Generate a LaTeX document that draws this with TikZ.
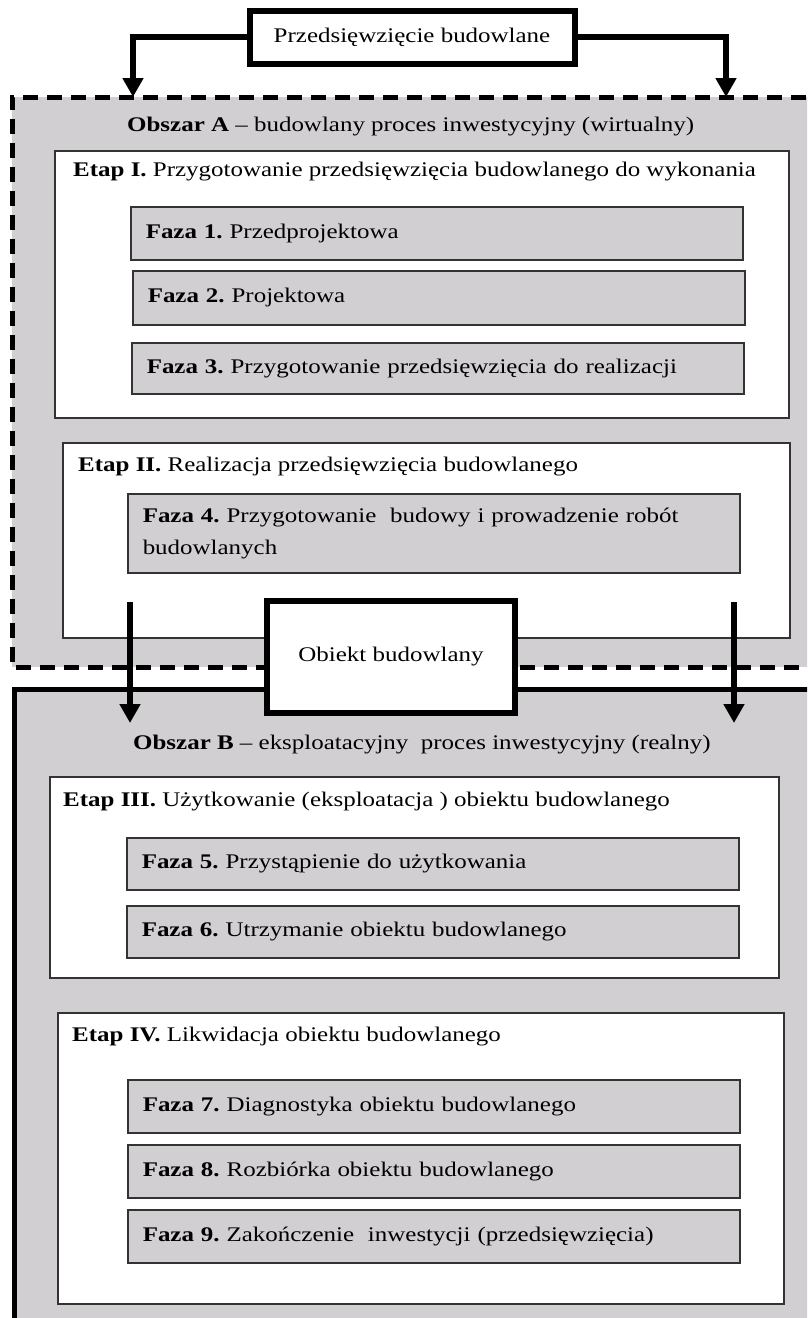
\documentclass[tikz,border=0pt]{standalone}
\usepackage{fontspec}
\setmainfont{Liberation Serif}[FakeStretch=1.2]
\usepackage{tikz}
\definecolor{areagray}{RGB}{209, 207, 209}
\definecolor{edgegray}{RGB}{51, 51, 51}
\usetikzlibrary{arrows.meta, positioning}
\frenchspacing

\begin{document}
\begin{tikzpicture}[
    x=1pt, y=-1pt,
    every node/.style={font=\fontsize{20.8}{32}\selectfont},
    mainbox/.style={rectangle, draw=black, line width=6pt, fill=white, inner sep=0pt, align=center},
    etapbox/.style={rectangle, draw=edgegray, line width=1.5pt, fill=white, anchor=north west, inner sep=0pt},
    fazabox/.style={rectangle, draw=edgegray, line width=1.5pt, fill=areagray, anchor=north west, inner xsep=15pt, inner ysep=0pt, text width=582pt, align=left},
    tag/.style={anchor=west, inner sep=0pt},
    flow/.style={line width=5.5pt, -{Triangle[length=19pt, width=20pt]}}
]
    \clip (0,0) rectangle (807,1318);

    % Obszar A (dashed area)
    \fill[areagray] (12,97) rectangle (830,667);
    \draw[line width=5pt, dash pattern=on 15pt off 9pt] (830,97) -- (12,97) -- (12,667) -- (830,667);

    % Obszar B (solid area)
    \fill[areagray] (14,689) rectangle (830,1340);
    \draw[line width=5pt] (830,689) -- (14,689) -- (14,1340);

    % Area titles
    \node[tag] (obszarA) at (127,127) {\textbf{Obszar A} – budowlany proces inwestycyjny (wirtualny)};
    \node[tag] (obszarB) at (133,745) {\textbf{Obszar B} – eksploatacyjny\ \ proces inwestycyjny (realny)};

    % Etap I
    \node[etapbox, minimum width=734pt, minimum height=267pt] (etap1) at (54,150) {};
    \node[tag] (etap1t) at (73,172) {\textbf{Etap I.} Przygotowanie przedsięwzięcia budowlanego do wykonania};
    \node[fazabox, minimum height=53pt] (faza1) at (130,206) {\textbf{Faza 1.} Przedprojektowa};
    \node[fazabox, minimum height=54pt] (faza2) at (132,270) {\textbf{Faza 2.} Projektowa};
    \node[fazabox, minimum height=51pt] (faza3) at (131,342) {\textbf{Faza 3.} Przygotowanie przedsięwzięcia do realizacji};

    % Etap II
    \node[etapbox, minimum width=727pt, minimum height=195pt] (etap2) at (62,442) {};
    \node[tag] (etap2t) at (78,467) {\textbf{Etap II.} Realizacja przedsięwzięcia budowlanego};
    \node[fazabox, minimum height=79pt] (faza4) at (127,493) {\textbf{Faza 4.} Przygotowanie\ \ budowy i prowadzenie robót\\budowlanych};

    % Etap III
    \node[etapbox, minimum width=729pt, minimum height=201pt] (etap3) at (49,776) {};
    \node[tag] (etap3t) at (63,802) {\textbf{Etap III.} Użytkowanie (eksploatacja ) obiektu budowlanego};
    \node[fazabox, minimum height=52pt] (faza5) at (126,837) {\textbf{Faza 5.} Przystąpienie do użytkowania};
    \node[fazabox, minimum height=52pt] (faza6) at (126,905) {\textbf{Faza 6.} Utrzymanie obiektu budowlanego};

    % Etap IV
    \node[etapbox, minimum width=726pt, minimum height=291pt] (etap4) at (57,1012) {};
    \node[tag] (etap4t) at (72,1037) {\textbf{Etap IV.} Likwidacja obiektu budowlanego};
    \node[fazabox, minimum height=53pt] (faza7) at (127,1079) {\textbf{Faza 7.} Diagnostyka obiektu budowlanego};
    \node[fazabox, minimum height=53pt] (faza8) at (127,1144) {\textbf{Faza 8.} Rozbiórka obiektu budowlanego};
    \node[fazabox, minimum height=53pt] (faza9) at (127,1209) {\textbf{Faza 9.} Zakończenie\ \ inwestycji (przedsięwzięcia)};

    % Przedsiewziecie and its arrows
    \node[mainbox, minimum width=325pt, minimum height=53pt] (przed) at (412,37) {Przedsięwzięcie budowlane};
    \coordinate (inA1) at (133,97);
    \coordinate (inA2) at (726,97);
    \draw[flow] (przed.west) -| (inA1);
    \draw[flow] (przed.east) -| (inA2);

    % Obiekt and the arrows into Obszar B
    \coordinate (outA1) at (130,602);
    \coordinate (inB1) at (130,723);
    \coordinate (outA2) at (734,602);
    \coordinate (inB2) at (734,723);
    \draw[flow] (outA1) -- (inB1);
    \draw[flow] (outA2) -- (inB2);
    \node[mainbox, minimum width=248pt, minimum height=112pt] (obiekt) at (391,657) {Obiekt budowlany};
\end{tikzpicture}
\end{document}
